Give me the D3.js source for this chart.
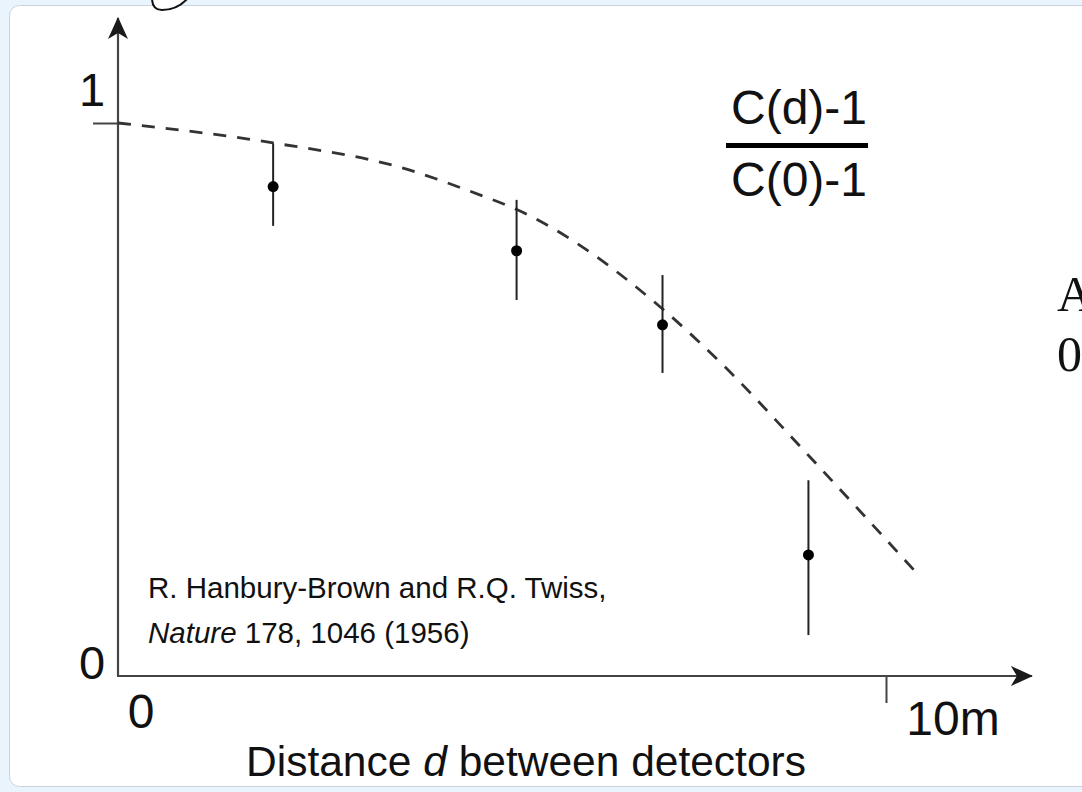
<!DOCTYPE html>
<html>
<head>
<meta charset="utf-8">
<script src="https://cdn.jsdelivr.net/npm/d3@7"></script>
<style>
  body { margin: 0; background: #eaf4fd; }
  svg { display: block; }
  .lab { font-family: "Liberation Sans", Arial, sans-serif; fill: #111; }
</style>
</head>
<body>
<div id="chart"></div>
<script>
var distance = [2.02, 5.19, 7.09, 8.99];
var correlation = [0.885, 0.769, 0.635, 0.219];
var errHigh = [0.963, 0.861, 0.725, 0.354];
var errLow = [0.814, 0.680, 0.548, 0.074];

// theory curve, dashed
var curveDist = [0, 2.02, 3.67, 4.71, 5.20, 7.08, 7.88, 9.01, 10.40];
var curveCorr = [1.0, 0.964, 0.920, 0.870, 0.843, 0.665, 0.562, 0.396, 0.186];

// tick labels
var yTickVals = [0, 1];
var yTickLabels = ["0", "1"];
var xTickVals = [0, 10];
var xTickLabels = ["0", "10m"];

var width = 1082;
var height = 792;

var svg = d3.select("#chart")
  .append("svg")
  .attr("width", width)
  .attr("height", height);

// white slide panel
svg.append("rect")
  .attr("x", 9.5)
  .attr("y", 5.5)
  .attr("width", 1100)
  .attr("height", 781)
  .attr("rx", 10)
  .attr("fill", "#fff")
  .attr("stroke", "#c9d3de");

// bit of a shape cut off at the top of the slide
svg.append("path")
  .attr("d", "M152,-2 C152,5 154,10 162,10 C172,10 181,6 188,-2")
  .attr("fill", "#fff")
  .attr("stroke", "#111")
  .attr("stroke-width", 2);

var X_Scale = d3.scaleLinear().domain([0, 10]).range([118, 886]);
var Y_Scale = d3.scaleLinear().domain([0, 1]).range([676, 123]);

// arrow heads
var defs = svg.append("defs");
defs.append("marker")
  .attr("id", "arrow")
  .attr("viewBox", "0 0 22 22")
  .attr("refX", 21)
  .attr("refY", 11)
  .attr("markerWidth", 22)
  .attr("markerHeight", 22)
  .attr("markerUnits", "userSpaceOnUse")
  .attr("orient", "auto")
  .append("path")
  .attr("d", "M0,1 L22,11 L0,21 L6,11 Z")
  .attr("fill", "#1a1a1a");

// axes
svg.append("line")
  .attr("x1", X_Scale(0)).attr("y1", Y_Scale(0))
  .attr("x2", X_Scale(0)).attr("y2", Y_Scale(1.19))
  .attr("stroke", "#444").attr("stroke-width", 2.2)
  .attr("marker-end", "url(#arrow)");

svg.append("line")
  .attr("x1", X_Scale(0) - 1).attr("y1", Y_Scale(0))
  .attr("x2", X_Scale(11.9)).attr("y2", Y_Scale(0))
  .attr("stroke", "#444").attr("stroke-width", 2.2)
  .attr("marker-end", "url(#arrow)");

// ticks: 1 on the y axis (to the left), 10m on the x axis (below)
var y_Axis = d3.axisLeft(Y_Scale).tickValues([1]).tickSize(25).tickFormat("");
var yAx = svg.append("g")
  .attr("transform", "translate(" + X_Scale(0) + ",0)")
  .call(y_Axis);
yAx.select(".domain").remove();
yAx.selectAll("line").attr("stroke", "#444").attr("stroke-width", 2);

var x_Axis = d3.axisBottom(X_Scale).tickValues([10]).tickSize(27).tickFormat("");
var xAx = svg.append("g")
  .attr("transform", "translate(0," + Y_Scale(0) + ")")
  .call(x_Axis);
xAx.select(".domain").remove();
xAx.selectAll("line").attr("stroke", "#444").attr("stroke-width", 2);

// tick labels
svg.selectAll("text.ylab")
  .data(yTickVals)
  .enter()
  .append("text")
  .attr("class", "lab ylab")
  .attr("x", 92)
  .attr("y", function(d) { return d === 1 ? Y_Scale(d) - 17 : Y_Scale(d) + 3; })
  .attr("text-anchor", "middle")
  .attr("font-size", 47)
  .text(function(d, i) { return yTickLabels[i]; });

svg.selectAll("text.xlab")
  .data(xTickVals)
  .enter()
  .append("text")
  .attr("class", "lab xlab")
  .attr("x", function(d) { return d === 0 ? X_Scale(d) + 23 : X_Scale(d) + 67; })
  .attr("y", function(d) { return d === 0 ? Y_Scale(0) + 52 : Y_Scale(0) + 59; })
  .attr("text-anchor", "middle")
  .attr("font-size", 48)
  .text(function(d, i) { return xTickLabels[i]; });

// dashed theory curve
var curvePts = curveDist.map(function(d, i) { return [d, curveCorr[i]]; });
var line = d3.line()
  .x(function(d) { return X_Scale(d[0]); })
  .y(function(d) { return Y_Scale(d[1]); })
  .curve(d3.curveMonotoneX);

svg.append("path")
  .datum(curvePts)
  .attr("d", line)
  .attr("fill", "none")
  .attr("stroke", "#333")
  .attr("stroke-width", 2.8)
  .attr("stroke-dasharray", "13,11");

// error bars and points
var pts = distance.map(function(d, i) {
  return { d: d, c: correlation[i], hi: errHigh[i], lo: errLow[i] };
});

svg.selectAll("line.err")
  .data(pts)
  .enter()
  .append("line")
  .attr("class", "err")
  .attr("x1", function(d) { return X_Scale(d.d); })
  .attr("x2", function(d) { return X_Scale(d.d); })
  .attr("y1", function(d) { return Y_Scale(d.hi); })
  .attr("y2", function(d) { return Y_Scale(d.lo); })
  .attr("stroke", "#222")
  .attr("stroke-width", 2);

svg.selectAll("circle.pt")
  .data(pts)
  .enter()
  .append("circle")
  .attr("class", "pt")
  .attr("cx", function(d) { return X_Scale(d.d); })
  .attr("cy", function(d) { return Y_Scale(d.c); })
  .attr("r", 5.5)
  .attr("fill", "#000");

// the ratio label
var frac = svg.append("g").attr("class", "lab");
frac.append("text")
  .attr("x", 799).attr("y", 124)
  .attr("text-anchor", "middle")
  .attr("font-size", 48)
  .text("C(d)-1");
frac.append("rect")
  .attr("x", 726).attr("y", 143)
  .attr("width", 142).attr("height", 5)
  .attr("fill", "#000");
frac.append("text")
  .attr("x", 799).attr("y", 196)
  .attr("text-anchor", "middle")
  .attr("font-size", 48)
  .text("C(0)-1");

// reference
var ref = svg.append("g").attr("class", "lab").attr("font-size", 29.5);
ref.append("text")
  .attr("x", 148).attr("y", 598)
  .text("R. Hanbury-Brown and R.Q. Twiss,");
var line2 = ref.append("text").attr("x", 148).attr("y", 643);
line2.append("tspan").attr("font-style", "italic").text("Nature");
line2.append("tspan").text(" 178, 1046 (1956)");

// axis title
var title = svg.append("text")
  .attr("class", "lab")
  .attr("x", 526).attr("y", 776)
  .attr("text-anchor", "middle")
  .attr("font-size", 42.5);
title.append("tspan").text("Distance ");
title.append("tspan").attr("font-style", "italic").text("d");
title.append("tspan").text(" between detectors");

// slide text cut off on the right
svg.append("text")
  .attr("x", 1057).attr("y", 311)
  .attr("font-family", "Liberation Serif, serif")
  .attr("font-size", 50)
  .attr("fill", "#111")
  .text("A");
svg.append("text")
  .attr("x", 1057).attr("y", 371)
  .attr("font-family", "Liberation Serif, serif")
  .attr("font-size", 50)
  .attr("fill", "#111")
  .text("0");
</script>
</body>
</html>
